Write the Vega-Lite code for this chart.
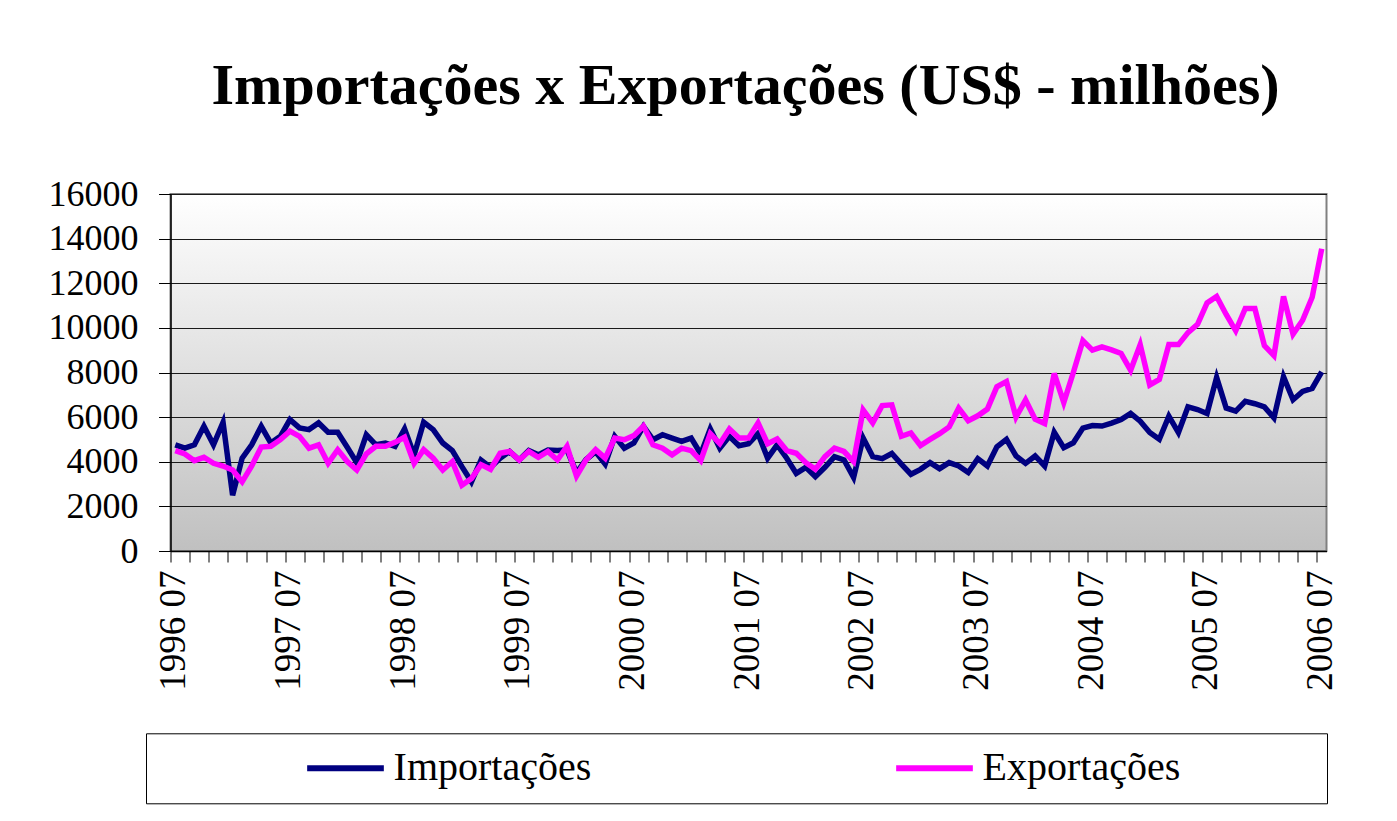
{
  "$schema": "https://vega.github.io/schema/vega-lite/v6.json",
  "width": 1156,
  "height": 357,
  "autosize": {"type": "none"},
  "padding": {"left": 170.5, "top": 194, "right": 70.5, "bottom": 270},
  "background": "white",
  "title": {
    "text": "Importações x Exportações (US$ - milhões)",
    "font": "Liberation Serif",
    "fontSize": 58,
    "fontWeight": "bold",
    "color": "black",
    "anchor": "middle",
    "frame": "group",
    "offset": 60,
    "dx": -3
  },
  "data": {
    "values": [
      {"mes": "1996 07", "Importações": 4760, "Exportações": 4500},
      {"mes": "1996 08", "Importações": 4610, "Exportações": 4350},
      {"mes": "1996 09", "Importações": 4760, "Exportações": 4050},
      {"mes": "1996 10", "Importações": 5590, "Exportações": 4200},
      {"mes": "1996 11", "Importações": 4760, "Exportações": 3930},
      {"mes": "1996 12", "Importações": 5770, "Exportações": 3810},
      {"mes": "1997 01", "Importações": 2500, "Exportações": 3630},
      {"mes": "1997 02", "Importações": 4160, "Exportações": 3100},
      {"mes": "1997 03", "Importações": 4760, "Exportações": 3810},
      {"mes": "1997 04", "Importações": 5590, "Exportações": 4660},
      {"mes": "1997 05", "Importações": 4840, "Exportações": 4690},
      {"mes": "1997 06", "Importações": 5140, "Exportações": 4990},
      {"mes": "1997 07", "Importações": 5890, "Exportações": 5370},
      {"mes": "1997 08", "Importações": 5520, "Exportações": 5140},
      {"mes": "1997 09", "Importações": 5440, "Exportações": 4610},
      {"mes": "1997 10", "Importações": 5740, "Exportações": 4760},
      {"mes": "1997 11", "Importações": 5320, "Exportações": 3930},
      {"mes": "1997 12", "Importações": 5320, "Exportações": 4540},
      {"mes": "1998 01", "Importações": 4650, "Exportações": 4010},
      {"mes": "1998 02", "Importações": 3960, "Exportações": 3630},
      {"mes": "1998 03", "Importações": 5210, "Exportações": 4350},
      {"mes": "1998 04", "Importações": 4760, "Exportações": 4690},
      {"mes": "1998 05", "Importações": 4840, "Exportações": 4690},
      {"mes": "1998 06", "Importações": 4690, "Exportações": 4870},
      {"mes": "1998 07", "Importações": 5470, "Exportações": 5100},
      {"mes": "1998 08", "Importações": 4300, "Exportações": 3930},
      {"mes": "1998 09", "Importações": 5770, "Exportações": 4540},
      {"mes": "1998 10", "Importações": 5440, "Exportações": 4160},
      {"mes": "1998 11", "Importações": 4840, "Exportações": 3630},
      {"mes": "1998 12", "Importações": 4500, "Exportações": 4010},
      {"mes": "1999 01", "Importações": 3780, "Exportações": 2950},
      {"mes": "1999 02", "Importações": 3100, "Exportações": 3250},
      {"mes": "1999 03", "Importações": 4080, "Exportações": 3870},
      {"mes": "1999 04", "Importações": 3750, "Exportações": 3660},
      {"mes": "1999 05", "Importações": 4160, "Exportações": 4380},
      {"mes": "1999 06", "Importações": 4460, "Exportações": 4460},
      {"mes": "1999 07", "Importações": 4080, "Exportações": 4080},
      {"mes": "1999 08", "Importações": 4500, "Exportações": 4460},
      {"mes": "1999 09", "Importações": 4310, "Exportações": 4200},
      {"mes": "1999 10", "Importações": 4530, "Exportações": 4460},
      {"mes": "1999 11", "Importações": 4500, "Exportações": 4080},
      {"mes": "1999 12", "Importações": 4530, "Exportações": 4690},
      {"mes": "2000 01", "Importações": 3500, "Exportações": 3360},
      {"mes": "2000 02", "Importações": 4100, "Exportações": 4080},
      {"mes": "2000 03", "Importações": 4450, "Exportações": 4540},
      {"mes": "2000 04", "Importações": 3900, "Exportações": 4160},
      {"mes": "2000 05", "Importações": 5140, "Exportações": 5060},
      {"mes": "2000 06", "Importações": 4610, "Exportações": 4990},
      {"mes": "2000 07", "Importações": 4840, "Exportações": 5170},
      {"mes": "2000 08", "Importações": 5590, "Exportações": 5600},
      {"mes": "2000 09", "Importações": 4990, "Exportações": 4760},
      {"mes": "2000 10", "Importações": 5210, "Exportações": 4610},
      {"mes": "2000 11", "Importações": 5060, "Exportações": 4310},
      {"mes": "2000 12", "Importações": 4910, "Exportações": 4610},
      {"mes": "2001 01", "Importações": 5060, "Exportações": 4500},
      {"mes": "2001 02", "Importações": 4350, "Exportações": 4050},
      {"mes": "2001 03", "Importações": 5470, "Exportações": 5260},
      {"mes": "2001 04", "Importações": 4610, "Exportações": 4810},
      {"mes": "2001 05", "Importações": 5140, "Exportações": 5470},
      {"mes": "2001 06", "Importações": 4720, "Exportações": 5060},
      {"mes": "2001 07", "Importações": 4810, "Exportações": 5060},
      {"mes": "2001 08", "Importações": 5260, "Exportações": 5740},
      {"mes": "2001 09", "Importações": 4160, "Exportações": 4810},
      {"mes": "2001 10", "Importações": 4760, "Exportações": 5020},
      {"mes": "2001 11", "Importações": 4160, "Exportações": 4500},
      {"mes": "2001 12", "Importações": 3480, "Exportações": 4380},
      {"mes": "2002 01", "Importações": 3750, "Exportações": 3960},
      {"mes": "2002 02", "Importações": 3330, "Exportações": 3660},
      {"mes": "2002 03", "Importações": 3750, "Exportações": 4230},
      {"mes": "2002 04", "Importações": 4230, "Exportações": 4610},
      {"mes": "2002 05", "Importações": 4080, "Exportações": 4460},
      {"mes": "2002 06", "Importações": 3300, "Exportações": 4010},
      {"mes": "2002 07", "Importações": 5060, "Exportações": 6320},
      {"mes": "2002 08", "Importações": 4230, "Exportações": 5740},
      {"mes": "2002 09", "Importações": 4140, "Exportações": 6520},
      {"mes": "2002 10", "Importações": 4370, "Exportações": 6550},
      {"mes": "2002 11", "Importações": 3890, "Exportações": 5140},
      {"mes": "2002 12", "Importações": 3440, "Exportações": 5290},
      {"mes": "2003 01", "Importações": 3660, "Exportações": 4730},
      {"mes": "2003 02", "Importações": 3960, "Exportações": 5000},
      {"mes": "2003 03", "Importações": 3690, "Exportações": 5260},
      {"mes": "2003 04", "Importações": 3960, "Exportações": 5560},
      {"mes": "2003 05", "Importações": 3810, "Exportações": 6400},
      {"mes": "2003 06", "Importações": 3520, "Exportações": 5840},
      {"mes": "2003 07", "Importações": 4140, "Exportações": 6060},
      {"mes": "2003 08", "Importações": 3810, "Exportações": 6360},
      {"mes": "2003 09", "Importações": 4670, "Exportações": 7360},
      {"mes": "2003 10", "Importações": 5000, "Exportações": 7590},
      {"mes": "2003 11", "Importações": 4260, "Exportações": 6000},
      {"mes": "2003 12", "Importações": 3930, "Exportações": 6770},
      {"mes": "2004 01", "Importações": 4260, "Exportações": 5910},
      {"mes": "2004 02", "Importações": 3810, "Exportações": 5710},
      {"mes": "2004 03", "Importações": 5320, "Exportações": 7960},
      {"mes": "2004 04", "Importações": 4630, "Exportações": 6650},
      {"mes": "2004 05", "Importações": 4850, "Exportações": 8000},
      {"mes": "2004 06", "Importações": 5510, "Exportações": 9430},
      {"mes": "2004 07", "Importações": 5620, "Exportações": 9000},
      {"mes": "2004 08", "Importações": 5600, "Exportações": 9150},
      {"mes": "2004 09", "Importações": 5730, "Exportações": 9010},
      {"mes": "2004 10", "Importações": 5890, "Exportações": 8850},
      {"mes": "2004 11", "Importações": 6170, "Exportações": 8100},
      {"mes": "2004 12", "Importações": 5820, "Exportações": 9250},
      {"mes": "2005 01", "Importações": 5310, "Exportações": 7440},
      {"mes": "2005 02", "Importações": 5010, "Exportações": 7690},
      {"mes": "2005 03", "Importações": 6040, "Exportações": 9250},
      {"mes": "2005 04", "Importações": 5310, "Exportações": 9250},
      {"mes": "2005 05", "Importações": 6460, "Exportações": 9790},
      {"mes": "2005 06", "Importações": 6340, "Exportações": 10160},
      {"mes": "2005 07", "Importações": 6160, "Exportações": 11120},
      {"mes": "2005 08", "Importações": 7780, "Exportações": 11410},
      {"mes": "2005 09", "Importações": 6410, "Exportações": 10600},
      {"mes": "2005 10", "Importações": 6270, "Exportações": 9870},
      {"mes": "2005 11", "Importações": 6710, "Exportações": 10870},
      {"mes": "2005 12", "Importações": 6600, "Exportações": 10870},
      {"mes": "2006 01", "Importações": 6460, "Exportações": 9200},
      {"mes": "2006 02", "Importações": 5970, "Exportações": 8760},
      {"mes": "2006 03", "Importações": 7810, "Exportações": 11410},
      {"mes": "2006 04", "Importações": 6780, "Exportações": 9720},
      {"mes": "2006 05", "Importações": 7150, "Exportações": 10340},
      {"mes": "2006 06", "Importações": 7290, "Exportações": 11370},
      {"mes": "2006 07", "Importações": 8030, "Exportações": 13550}
    ]
  },
  "transform": [
    {"fold": ["Importações", "Exportações"], "as": ["serie", "valor"]}
  ],
  "mark": {"type": "line", "strokeWidth": 5.5, "strokeMiterLimit": 4},
  "encoding": {
    "x": {
      "field": "mes",
      "type": "ordinal",
      "sort": null,
      "scale": {"type": "point", "padding": 0.5},
      "axis": {
        "title": null,
        "values": ["1996 07", "1996 09", "1996 11",
          "1997 01", "1997 03", "1997 05", "1997 07", "1997 09", "1997 11",
          "1998 01", "1998 03", "1998 05", "1998 07", "1998 09", "1998 11",
          "1999 01", "1999 03", "1999 05", "1999 07", "1999 09", "1999 11",
          "2000 01", "2000 03", "2000 05", "2000 07", "2000 09", "2000 11",
          "2001 01", "2001 03", "2001 05", "2001 07", "2001 09", "2001 11",
          "2002 01", "2002 03", "2002 05", "2002 07", "2002 09", "2002 11",
          "2003 01", "2003 03", "2003 05", "2003 07", "2003 09", "2003 11",
          "2004 01", "2004 03", "2004 05", "2004 07", "2004 09", "2004 11",
          "2005 01", "2005 03", "2005 05", "2005 07", "2005 09", "2005 11",
          "2006 01", "2006 03", "2006 05", "2006 07"],
        "labelExpr": "slice(datum.value, 5) == '07' ? datum.value : ''",
        "labelAngle": -90,
        "labelFont": "Liberation Serif",
        "labelFontSize": 37,
        "labelColor": "black",
        "labelOverlap": false,
        "labelPadding": 8,
        "tickOffset": -4.777,
        "labelOffset": 3.5,
        "tickSize": 11,
        "tickColor": "black",
        "tickWidth": 1,
        "domainColor": "black",
        "domainWidth": 1.5,
        "grid": false
      }
    },
    "y": {
      "field": "valor",
      "type": "quantitative",
      "scale": {"domain": [0, 16000], "nice": false, "zero": true},
      "axis": {
        "title": null,
        "values": [0, 2000, 4000, 6000, 8000, 10000, 12000, 14000, 16000],
        "format": "d",
        "labelFont": "Liberation Serif",
        "labelFontSize": 36,
        "labelColor": "black",
        "labelPadding": 20.5,
        "tickSize": 12,
        "tickColor": "black",
        "domainColor": "black",
        "domainWidth": 1.5,
        "grid": true,
        "gridColor": "#1a1a1a",
        "gridWidth": 1.2
      }
    },
    "color": {
      "field": "serie",
      "type": "nominal",
      "sort": ["Importações", "Exportações"],
      "scale": {"domain": ["Importações", "Exportações"], "range": ["#000080", "#ff00ff"]},
      "legend": {
        "orient": "none",
        "legendX": -24.5,
        "legendY": 539.3,
        "direction": "horizontal",
        "title": "\u00a0",
        "titleOrient": "right",
        "titleFontSize": 10,
        "titlePadding": 132,
        "symbolType": "stroke",
        "symbolSize": 5880,
        "symbolStrokeWidth": 6,
        "symbolOffset": 143,
        "clipHeight": 40,
        "labelFont": "Liberation Serif",
        "labelFontSize": 40,
        "labelColor": "black",
        "labelOffset": 6.6,
        "labelLimit": 800,
        "columnPadding": 158,
        "padding": 15,
        "strokeColor": "black",
        "fillColor": "white"
      }
    }
  },
  "config": {
    "font": "Liberation Serif",
    "view": {
      "fill": {
        "gradient": "linear",
        "x1": 0, "y1": 0, "x2": 0, "y2": 1,
        "stops": [
          {"offset": 0, "color": "#ffffff"},
          {"offset": 1, "color": "#c0c0c0"}
        ]
      },
      "stroke": "#808080",
      "strokeWidth": 2
    }
  }
}
